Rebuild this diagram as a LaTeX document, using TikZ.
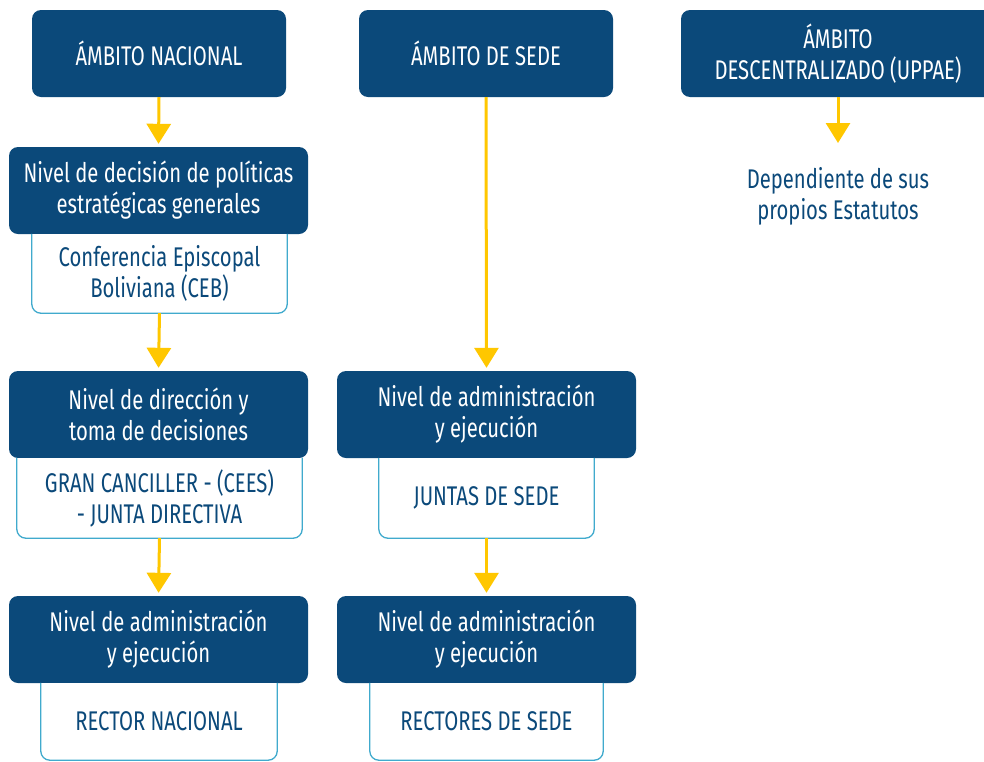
\documentclass[tikz,border=0pt]{standalone}
\usepackage{fontspec}
\setmainfont{Fira Sans}[FakeStretch=0.75]
\usetikzlibrary{arrows.meta}
\definecolor{azul}{RGB}{11,73,122}
\definecolor{amarillo}{RGB}{255,199,0}
\definecolor{celeste}{RGB}{64,170,205}

\begin{document}
\begin{tikzpicture}[x=1pt,y=-1pt,
    nivel/.style={fill=azul,text=white,rounded corners=9pt,align=center,
        inner sep=0pt,minimum height=87pt,font=\fontsize{27}{31}\selectfont},
    cuerpo/.style={fill=white,text=azul,align=center,inner sep=0pt,
        font=\fontsize{27}{31}\selectfont},
    borde/.style={celeste,line width=1.3pt,rounded corners=9pt},
    flecha/.style={amarillo,line width=3pt,shorten >=3pt,
        -{Triangle[width=24pt,length=20pt]}}]
    \fill[white] (0,0) rectangle (984,761);
    \useasboundingbox (0,0) rectangle (984,761);

    % ambito nacional
    \node[nivel,minimum width=254pt] (nac) at (159,53.5) {ÁMBITO NACIONAL};
    \node[nivel,minimum width=299pt] (nac1) at (158.5,190.5)
        {Nivel de decisión de políticas\\estratégicas generales};
    \node[cuerpo,minimum width=255pt,minimum height=79pt] (ceb) at (159.5,273.5)
        {Conferencia Episcopal\\Boliviana (CEB)};
    \node[nivel,minimum width=299pt] (nac2) at (158.5,414.5)
        {Nivel de dirección y\\toma de decisiones};
    \node[cuerpo,minimum width=285pt,minimum height=80pt] (gran) at (159.5,498)
        {GRAN CANCILLER - (CEES)\\- JUNTA DIRECTIVA};
    \node[nivel,minimum width=299pt] (nac3) at (158.5,639.5)
        {Nivel de administración\\y ejecución};
    \node[cuerpo,minimum width=236pt,minimum height=77pt] (rector) at (159,721.5)
        {RECTOR NACIONAL};

    % ambito de sede
    \node[nivel,minimum width=254pt] (sede) at (486,53.5) {ÁMBITO DE SEDE};
    \node[nivel,minimum width=299pt] (sede1) at (486.5,414.5)
        {Nivel de administración\\y ejecución};
    \node[cuerpo,minimum width=215pt,minimum height=80pt] (juntas) at (486.5,498)
        {JUNTAS DE SEDE};
    \node[nivel,minimum width=299pt] (sede2) at (486.5,639.5)
        {Nivel de administración\\y ejecución};
    \node[cuerpo,minimum width=233pt,minimum height=77pt] (rectores) at (486.5,721.5)
        {RECTORES DE SEDE};

    % ambito descentralizado
    \node[nivel,minimum width=314pt] (desc) at (838,53.5)
        {ÁMBITO\\DESCENTRALIZADO (UPPAE)};
    \node[cuerpo] (estat) at (838,196) {Dependiente de sus\\propios Estatutos};
    \coordinate (descfin) at (838,146);

    % bordes
    \foreach \b in {ceb,gran,rector,juntas,rectores}
        \draw[borde] (\b.north west) |- (\b.south) -| (\b.north east);

    % flechas
    \draw[flecha] (nac.south) -- (nac1.north);
    \draw[flecha] (ceb.south) -- (nac2.north);
    \draw[flecha] (gran.south) -- (nac3.north);
    \draw[flecha] (sede.south) -- (sede1.north);
    \draw[flecha] (juntas.south) -- (sede2.north);
    \draw[flecha] (desc.south) -- (descfin);
\end{tikzpicture}
\end{document}
